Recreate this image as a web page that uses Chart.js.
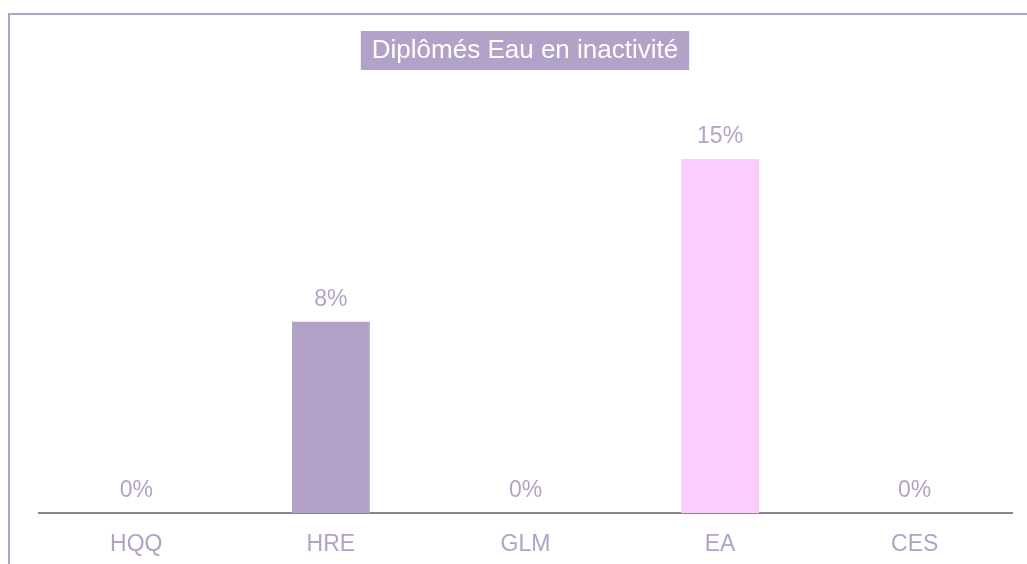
<!DOCTYPE html>
<html>
<head>
<meta charset="utf-8">
<script src="https://cdn.jsdelivr.net/npm/chart.js@4"></script>
<style>
  html, body { margin: 0; padding: 0; background: #fff; }
  #wrap { width: 1027px; height: 564px; }
</style>
</head>
<body>
<div id="wrap"><canvas id="myChart" width="1027" height="564"></canvas></div>
<script>
const categories = ['HQQ', 'HRE', 'GLM', 'EA', 'CES'];
const values = [0, 8.1, 0, 15, 0];
const barColors = ['#b3a2c7', '#b3a2c7', '#b3a2c7', '#fccdfc', '#b3a2c7'];
const chartTitle = 'Diplômés Eau en inactivité';

const fontFamily = '"Liberation Sans", Arial, sans-serif';
const lavender = '#b3a2c7';

// cadre + titre dans un bandeau
const frame = {
    id: 'frame',
    beforeDraw(chart) {
        const ctx = chart.ctx;
        ctx.save();
        ctx.fillStyle = lavender;
        ctx.fillRect(8, 13, 1027, 2);
        ctx.fillRect(8, 13, 2, 564);

        ctx.font = '26px ' + fontFamily;
        const w = ctx.measureText(chartTitle).width;
        const cx = 525;
        ctx.fillRect(cx - w / 2 - 11, 31, w + 22, 39);
        ctx.fillStyle = '#ffffff';
        ctx.textAlign = 'center';
        ctx.textBaseline = 'middle';
        ctx.fillText(chartTitle, cx, 51);
        ctx.restore();
    }
};

// valeurs au-dessus des barres
const valueLabels = {
    id: 'valueLabels',
    afterDatasetsDraw(chart) {
        const ctx = chart.ctx;
        const meta = chart.getDatasetMeta(0);
        ctx.save();
        ctx.font = '23px ' + fontFamily;
        ctx.fillStyle = lavender;
        ctx.textAlign = 'center';
        ctx.textBaseline = 'alphabetic';
        meta.data.forEach((bar, i) => {
            ctx.fillText(Math.round(values[i]) + '%', bar.x, bar.y - 16);
        });
        ctx.restore();
    }
};

const config = {
    type: 'bar',
    data: {
        labels: categories,
        datasets: [{
            data: values,
            backgroundColor: barColors,
            barPercentage: 0.4,
            categoryPercentage: 1.0
        }]
    },
    options: {
        responsive: false,
        animation: false,
        layout: {
            padding: { left: 39, right: 15, top: 100, bottom: 0 }
        },
        plugins: {
            legend: { display: false },
            tooltip: { enabled: false },
            title: { display: false }
        },
        scales: {
            y: {
                display: false,
                min: 0,
                max: 17.5
            },
            x: {
                grid: { display: false },
                border: { display: true, color: '#888888', width: 2 },
                ticks: {
                    color: lavender,
                    font: { family: fontFamily, size: 23 },
                    padding: 10
                },
                afterFit(scale) {
                    scale.height = 51;
                }
            }
        }
    },
    plugins: [frame, valueLabels]
};

const chart = new Chart(document.getElementById('myChart'), config);
</script>
</body>
</html>
